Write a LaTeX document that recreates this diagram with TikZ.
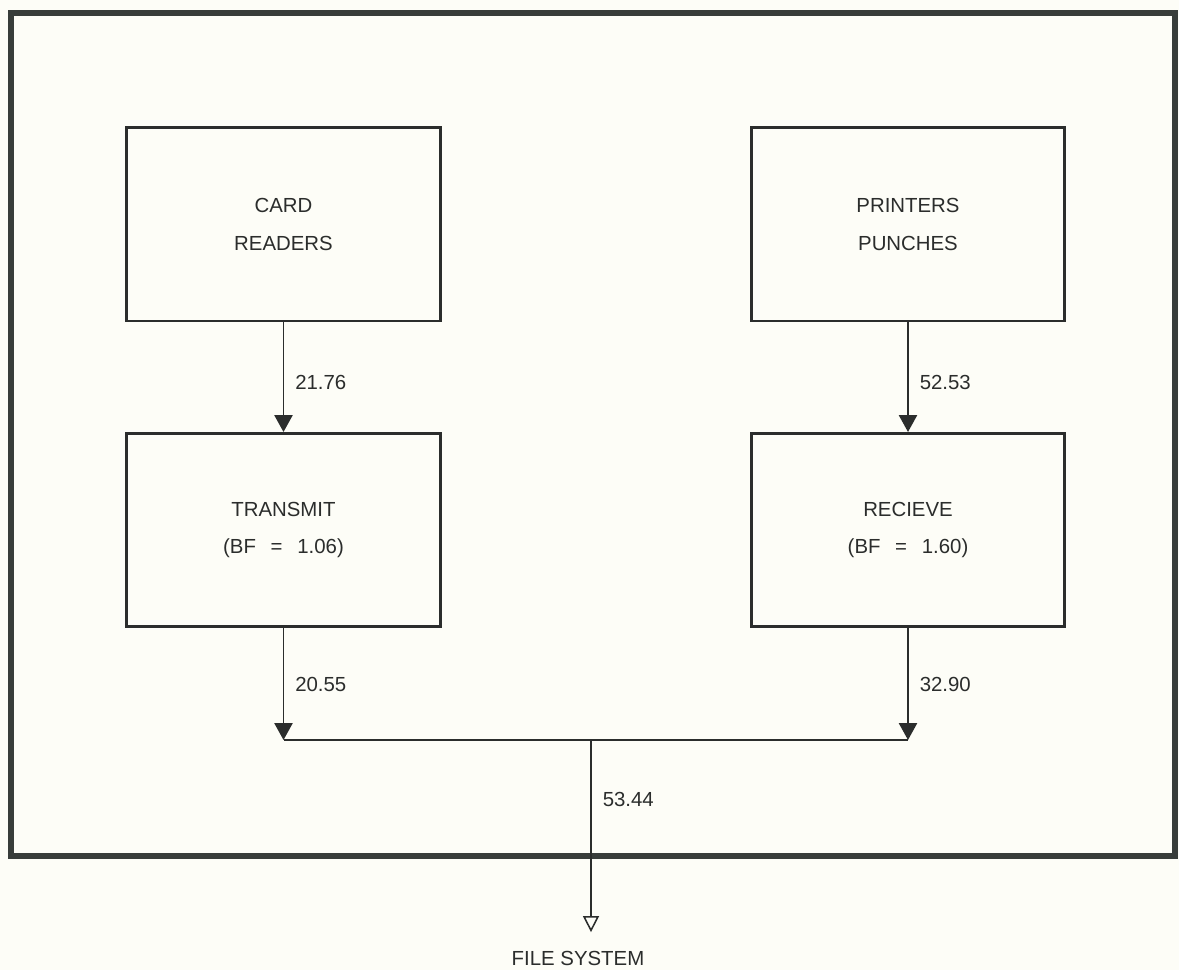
\documentclass[tikz,border=0pt]{standalone}
\usepackage{fontspec}
\setmainfont{Liberation Sans}
\usetikzlibrary{positioning,arrows.meta,calc}
\definecolor{fsink}{HTML}{2B2D2C}
\definecolor{fsframe}{HTML}{383D3A}
\definecolor{fspaper}{HTML}{FDFDF7}
\newcommand{\bfgap}{\hspace{0.72em}}

\begin{document}
\begin{tikzpicture}[x=0.025cm, y=-0.025cm,
  font=\fontsize{14.5}{27}\selectfont,
  unit/.style={draw=fsink, line width=2.1pt, align=center, text=fsink, inner sep=0pt,
    minimum width=7.825cm, minimum height=4.825cm},
  flow/.style={-{Triangle[width=4.5mm, length=4.2mm]}, line width=1.4pt, draw=fsink},
  outflow/.style={-{Triangle[open, width=4mm, length=4mm, line width=1.1pt]}, line width=1.4pt, draw=fsink},
  joint/.style={line width=1.4pt, draw=fsink},
  num/.style={anchor=west, text=fsink, inner sep=0pt, xshift=2.7mm}
]
% ================= paper and outer frame =================
\fill[fspaper] (0,0) rectangle (1179,970);
\useasboundingbox (0,0) rectangle (1179,970);
\draw[line width=4.8pt, draw=fsframe] (11,13) rectangle (1175,856);
% ================= the four units =================
\node[unit] (card) at (283.5,224.5) {CARD\\READERS};
\node[unit] (prn)  at (908,224.5)   {PRINTERS\\PUNCHES};
\node[unit] (tx)   at (283.5,530)   {TRANSMIT\\(BF\bfgap=\bfgap1.06)};
\node[unit] (rx)   at (908,530)     {RECIEVE\\(BF\bfgap=\bfgap1.60)};
\node[text=fsink, inner sep=0pt] (fs) at (578,958) {FILE SYSTEM};
\coordinate (jn) at (591,740);
% ================= flows =================
\draw[flow] (card) -- node[num, pos=0.55]{21.76} (tx);
\draw[flow] (prn) -- node[num, pos=0.55]{52.53} (rx);
\draw[flow] (tx) -- node[num]{20.55} (tx |- jn);
\draw[flow] (rx) -- node[num]{32.90} (rx |- jn);
\draw[joint] (tx |- jn) -- (rx |- jn);
\draw[outflow] (jn) -- node[num, pos=0.31]{53.44} ([yshift=4.6mm]jn |- fs.north);
\end{tikzpicture}
\end{document}
